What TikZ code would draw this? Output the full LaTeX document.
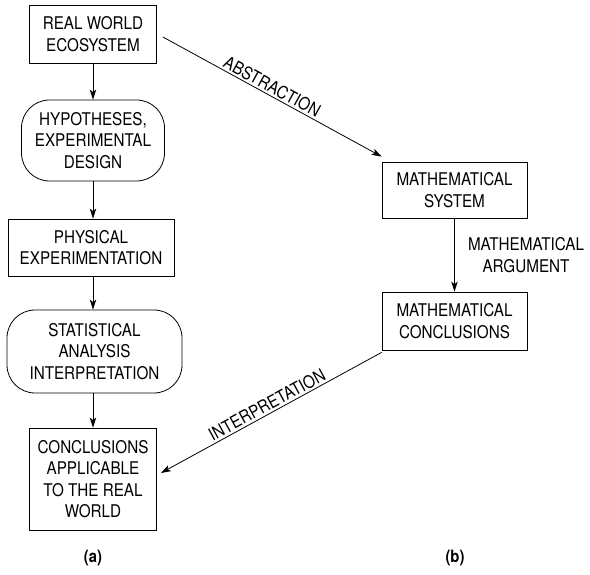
\documentclass[tikz,border=0pt]{standalone}
\usepackage{fontspec}
\setmainfont[FakeStretch=0.87]{TeX Gyre Heros}
\usepackage{tikz}
\usetikzlibrary{arrows.meta,positioning}

\begin{document}
\begin{tikzpicture}[
	x=1pt,y=1pt,
	>={Stealth[length=10pt,width=6.5pt,inset=2.5pt]},
	every path/.style={line width=0.8pt},
	box/.style={draw,align=center,inner sep=0pt,font=\fontsize{17.5}{21.5}\selectfont},
	roundbox/.style={box,rounded corners=28pt},
	lbl/.style={align=center,inner sep=1pt,font=\fontsize{17.5}{21.5}\selectfont},
	sub/.style={font=\fontsize{17}{19}\selectfont\bfseries},
	]
	\useasboundingbox (0,0) rectangle (590,574);
	% left column
	\node[box,minimum width=127pt,minimum height=58pt] at (93,540) (eco) {REAL WORLD\\ECOSYSTEM};
	\node[roundbox,minimum width=143pt,minimum height=81pt] at (93,433.5) (hyp) {HYPOTHESES,\\EXPERIMENTAL\\DESIGN};
	\node[box,minimum width=166pt,minimum height=57pt] at (91,326.5) (phys) {PHYSICAL\\EXPERIMENTATION};
	\node[roundbox,minimum width=175pt,minimum height=83pt] at (94.5,222.5) (stat) {STATISTICAL\\ANALYSIS\\INTERPRETATION};
	\node[box,minimum width=127pt,minimum height=102pt] at (93,95) (concl) {CONCLUSIONS\\APPLICABLE\\TO THE REAL\\WORLD};
	% right column
	\node[box,minimum width=145pt,minimum height=56pt] at (454.5,384) (msys) {MATHEMATICAL\\SYSTEM};
	\node[box,minimum width=145pt,minimum height=58pt] at (454.5,253) (mconc) {MATHEMATICAL\\CONCLUSIONS};
	\node[lbl] at (526,319) (marg) {MATHEMATICAL\\ARGUMENT};
	
	\node[sub] at (93,16) (la) {(a)};
	\node[sub] at (455,16) (lb) {(b)};
	
	\path[->] (eco) edge (eco.south |- hyp.north);
	\path[->] (hyp) edge (hyp.south |- phys.north);
	\path[->] (phys.south -| hyp.south) edge (hyp.south |- stat.north);
	\path[->] (stat.south -| hyp.south) edge (hyp.south |- concl.north);
	\path[->] (msys) edge (mconc);
	
	\path[->] ([xshift=6pt,yshift=-3pt]eco.east) edge node[lbl,sloped,above=1pt,pos=0.48] (abs) {ABSTRACTION} ([yshift=5pt]msys.north west);
	\path[->] ([yshift=-2pt]mconc.south west) edge node[lbl,sloped,above=1pt,pos=0.5] (interp) {INTERPRETATION} ([xshift=4pt,yshift=6pt]concl.east);
\end{tikzpicture}
\end{document}
